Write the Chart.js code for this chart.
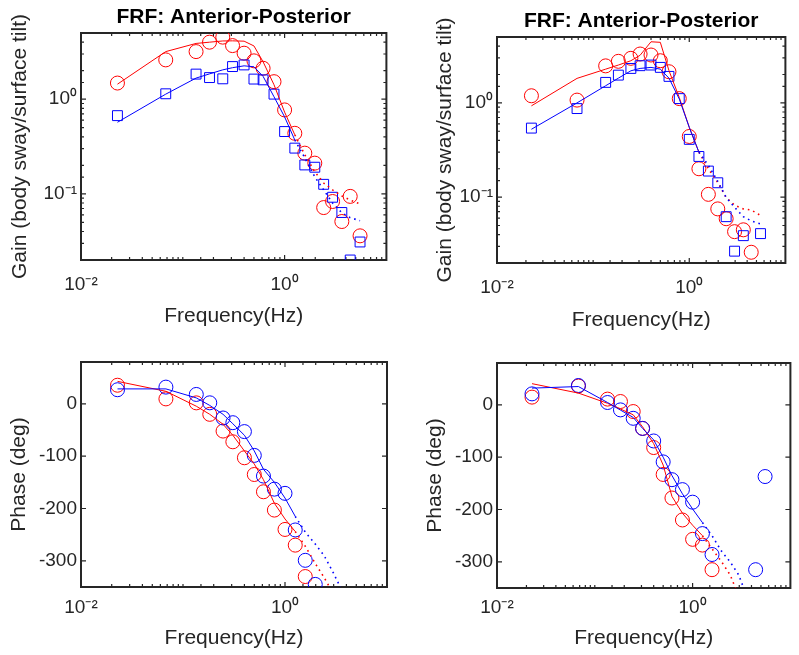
<!DOCTYPE html>
<html>
<head>
<meta charset="utf-8">
<script src="https://cdn.jsdelivr.net/npm/chart.js@4/dist/chart.umd.min.js"></script>
<style>
  body { margin: 0; background: #fff; }
  #wrap { position: relative; width: 799px; height: 655px; overflow: hidden; }
  canvas { position: absolute; }
</style>
</head>
<body>
<div id="wrap">
  <canvas id="gainL" width="400" height="330" style="left:0px;top:0px"></canvas>
  <canvas id="gainR" width="383" height="335" style="left:416px;top:0px"></canvas>
  <canvas id="phaseL" width="400" height="315" style="left:0px;top:340px"></canvas>
  <canvas id="phaseR" width="383" height="315" style="left:416px;top:340px"></canvas>
</div>
<script>
// stimulus frequencies (Hz), shared by every panel
const freqs = [0.0228, 0.068, 0.135, 0.183, 0.247, 0.308, 0.40, 0.50, 0.615, 0.787,
               1.0, 1.26, 1.58, 1.98, 2.42, 2.96, 3.65, 4.41, 5.51];
const DOT_START = 11; // dotted fit continues from 1.26 Hz

// left column - gain
const redGainL  = [1.48, 2.60, 3.18, 4.0, 4.52, 3.68, 3.06, 2.54, 2.12, 1.53, 0.77, 0.436, 0.269, 0.211, 0.0716, 0.083, 0.051, 0.094, 0.036];
const blueGainL = [0.67, 1.14, 1.84, 1.69, 1.64, 2.21, 2.30, 1.63, 1.60, 1.13, 0.455, 0.304, 0.202, 0.191, 0.126, 0.092, 0.0635, 0.020, 0.031];
const redFitGainL     = [1.44, 3.18, 3.88, 4.0, 4.12, 4.13, 4.1, 3.65, 2.48, 1.42, 0.73, 0.42];
const redFitGainLDot  = [0.42, 0.258, 0.171, 0.13, 0.11, 0.095, 0.086, 0.078];
const blueFitGainL    = [0.57, 1.13, 1.67, 1.85, 2.04, 2.15, 2.25, 2.2, 1.74, 1.06, 0.65, 0.37];
const blueFitGainLDot = [0.37, 0.24, 0.151, 0.110, 0.080, 0.063, 0.056, 0.052];

// right column - gain
const redGainR  = [1.19, 1.07, 2.47, 2.76, 2.97, 3.30, 3.22, 2.80, 2.14, 1.11, 0.44, 0.20, 0.107, 0.075, 0.059, 0.043, 0.045, 0.026, null];
const blueGainR = [0.54, 0.87, 1.65, 1.97, 2.32, 2.48, 2.52, 2.38, 1.91, 1.11, 0.41, 0.270, 0.189, 0.142, 0.062, 0.0267, 0.039, null, 0.041];
const redFitGainR     = [0.93, 1.82, 2.28, 2.52, 2.8, 3.2, 4.45, 4.39, 2.2, 1.14, 0.55, 0.30];
const redFitGainRDot  = [0.30, 0.20, 0.143, 0.099, 0.082, 0.075, 0.073, 0.064];
const blueFitGainR    = [0.525, 1.0, 1.52, 1.83, 2.19, 2.32, 2.38, 2.28, 1.83, 1.1, 0.55, 0.30];
const blueFitGainRDot = [0.30, 0.217, 0.147, 0.099, 0.078, 0.062, 0.056, 0.052];

// left column - phase (deg)
const redPhaseL  = [35.6, 9.5, 1.9, -20, -52, -72.5, -103, -135, -168, -203, -240, -270, -330, null, null, null, null, null, null];
const bluePhaseL = [27, 32, 18, 2, -27, -36, -53, -98.5, -138, -163, -171, -241, -299, -345, null, null, null, null, null];
const redFitPhaseL     = [43, 24, -4.5, -20, -39, -60, -90, -115, -145, -190, -220, -244];
const redFitPhaseLDot  = [-244, -272, -305, -332, -362, -395, -425, -465];
const blueFitPhaseL    = [28.6, 28.6, 11.4, -3, -20, -38, -60, -90, -125, -150, -180, -215];
const blueFitPhaseLDot = [-215, -245, -268, -290, -322, -358, -390, -430];

// right column - phase (deg)
const redPhaseR  = [14.8, 36, 11, 6.4, -12.8, -45, -81.6, -133, -178, -220, -257, -268, -315, null, null, null, null, null, null];
const bluePhaseR = [21, 37, 4.5, -9.6, -25.7, -45, -69, -109, -143, -162, -186, -246, -286, null, null, null, null, -315, -137];
const redFitPhaseR     = [40.5, 22.5, 3, -8, -19, -42, -74, -115, -175, -207, -230, -250];
const redFitPhaseRDot  = [-250, -275, -300, -325, -365, -400, -430, -470];
const blueFitPhaseR    = [32, 35, 4.5, -10, -24, -45, -67, -100, -135, -170, -199, -225];
const blueFitPhaseRDot = [-225, -250, -280, -300, -325, -370, -400, -440];

const titleText = 'FRF: Anterior-Posterior';
const RED = '#ff0000', BLUE = '#0000ff', AXIS = '#262626';

Chart.defaults.font.family = "'Liberation Sans', Arial, sans-serif";
Chart.defaults.color = AXIS;

const SUP = {'-': '\u207B', '0': '\u2070', '1': '\u00B9', '2': '\u00B2', '3': '\u00B3'};
function decadeLabel(v, shown) {
  const e = Math.log10(v), r = Math.round(e);
  if (Math.abs(e - r) < 1e-6 && shown.includes(r)) {
    return '10' + String(r).split('').map(c => SUP[c]).join('');
  }
  return '';
}

function pts(vals, offset) {
  return vals.map((v, i) => ({x: freqs[i + offset], y: v}));
}
function fitSet(vals, offset, color, dotted) {
  return {
    data: pts(vals, offset), showLine: true, pointRadius: 0,
    borderColor: color, borderWidth: dotted ? 1.6 : 1,
    borderDash: dotted ? [1.6, 4] : [], tension: 0
  };
}
function markSet(vals, color, style) {
  return {
    data: pts(vals, 0), showLine: false, pointStyle: style,
    pointRadius: 7, pointBorderWidth: 1,
    pointBorderColor: color, pointBackgroundColor: 'rgba(0,0,0,0)'
  };
}

// matlab-like box with inward ticks on all four sides
const boxTicks = {
  id: 'boxTicks',
  beforeDatasetsDraw(chart) {
    const {ctx, chartArea: a, scales} = chart;
    ctx.save();
    ctx.strokeStyle = AXIS;
    ctx.lineWidth = 1.2;
    ctx.beginPath();
    scales.x.ticks.forEach(t => {
      const p = scales.x.getPixelForValue(t.value);
      if (p < a.left + 1 || p > a.right - 1) return;
      const len = t.label ? 5 : 3;
      ctx.moveTo(p, a.bottom); ctx.lineTo(p, a.bottom - len);
      ctx.moveTo(p, a.top); ctx.lineTo(p, a.top + len);
    });
    scales.y.ticks.forEach(t => {
      const p = scales.y.getPixelForValue(t.value);
      if (p < a.top + 1 || p > a.bottom - 1) return;
      const len = (scales.y.type === 'linear' || t.label) ? 5 : 3;
      ctx.moveTo(a.left, p); ctx.lineTo(a.left + len, p);
      ctx.moveTo(a.right, p); ctx.lineTo(a.right - len, p);
    });
    ctx.stroke();
    ctx.lineWidth = 2;
    ctx.strokeRect(a.left, a.top, a.right - a.left, a.bottom - a.top);
    ctx.restore();
  }
};

const noGrid = {display: false, drawTicks: false};

function makePanel(id, p) {
  const gain = p.kind === 'gain';
  const yScale = gain ? {
    type: 'logarithmic', min: 0.02, max: 5,
    ticks: {autoSkip: false, padding: 4, font: {size: 19}, callback: v => decadeLabel(v, [-1, 0])}
  } : {
    type: 'linear', min: -350, max: 80,
    ticks: {stepSize: 100, includeBounds: false, padding: 4, font: {size: 19}}
  };
  Object.assign(yScale, {
    grid: noGrid, border: {display: false},
    title: {display: true, text: gain ? 'Gain (body sway/surface tilt)' : 'Phase (deg)',
            font: {size: 21}, padding: {top: p.yTitlePad, bottom: 0}},
    afterFit: s => { s.width = 81; }
  });

  return new Chart(document.getElementById(id), {
    type: 'scatter',
    data: {
      datasets: [
        fitSet(p.blueFit, 0, BLUE, false),
        fitSet(p.blueFitDot, DOT_START, BLUE, true),
        fitSet(p.redFit, 0, RED, false),
        fitSet(p.redFitDot, DOT_START, RED, true),
        markSet(p.blue, BLUE, gain ? 'rect' : 'circle'),
        markSet(p.red, RED, 'circle')
      ]
    },
    options: {
      responsive: false,
      animation: false,
      events: [],
      layout: {padding: {top: p.padTop, right: p.padRight, bottom: 0, left: 0}},
      plugins: {
        legend: {display: false},
        tooltip: {enabled: false},
        title: gain ? {
          display: true, text: titleText, fullSize: false, color: '#000',
          font: {size: 21, weight: 'bold'}, padding: {top: p.titleTop, bottom: p.titleBottom}
        } : {display: false}
      },
      scales: {
        x: {
          type: 'logarithmic', min: 0.01, max: 10,
          grid: noGrid, border: {display: false},
          ticks: {autoSkip: false, maxRotation: 0, padding: p.xTickPad, font: {size: 19},
                  callback: v => decadeLabel(v, [-2, 0])},
          title: {display: true, text: 'Frequency(Hz)', font: {size: 21},
                  padding: {top: 0, bottom: p.xTitlePad}},
          afterFit: s => { s.height = p.xHeight; }
        },
        y: yScale
      }
    },
    plugins: [boxTicks]
  });
}

makePanel('gainL', {
  kind: 'gain', red: redGainL, blue: blueGainL,
  redFit: redFitGainL, redFitDot: redFitGainLDot, blueFit: blueFitGainL, blueFitDot: blueFitGainLDot,
  padTop: 0, padRight: 13, titleTop: 5, titleBottom: 2.8, xTickPad: 13.6, xTitlePad: 1.4, xHeight: 70, yTitlePad: 7.4
});
makePanel('gainR', {
  kind: 'gain', red: redGainR, blue: blueGainR,
  redFit: redFitGainR, redFitDot: redFitGainRDot, blueFit: blueFitGainR, blueFitDot: blueFitGainRDot,
  padTop: 0, padRight: 1, titleTop: 9, titleBottom: 2.8, xTickPad: 13.6, xTitlePad: 2.4, xHeight: 72, yTitlePad: 16.4
});
makePanel('phaseL', {
  kind: 'phase', red: redPhaseL, blue: bluePhaseL,
  redFit: redFitPhaseL, redFitDot: redFitPhaseLDot, blueFit: blueFitPhaseL, blueFitDot: blueFitPhaseLDot,
  padTop: 22, padRight: 13, xTickPad: 9, xTitlePad: 4.4, xHeight: 68, yTitlePad: 6.4
});
makePanel('phaseR', {
  kind: 'phase', red: redPhaseR, blue: bluePhaseR,
  redFit: redFitPhaseR, redFitDot: redFitPhaseRDot, blueFit: blueFitPhaseR, blueFitDot: blueFitPhaseRDot,
  padTop: 23, padRight: 1, xTickPad: 8.6, xTitlePad: 4.4, xHeight: 67, yTitlePad: 6.4
});
</script>
</body>
</html>
